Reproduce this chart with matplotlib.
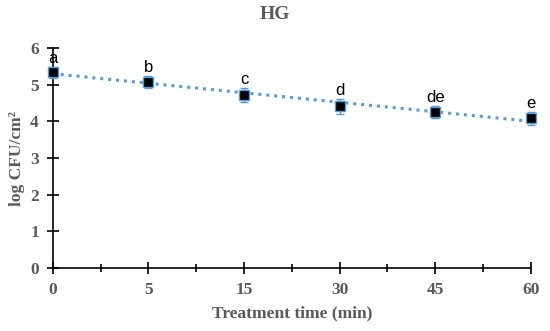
import numpy as np
import matplotlib.pyplot as plt
from matplotlib.ticker import MultipleLocator

times = ["0", "5", "15", "30", "45", "60"]
log_cfu = [5.34, 5.08, 4.73, 4.41, 4.26, 4.08]
err = [0.15, 0.17, 0.19, 0.20, 0.17, 0.18]
letters = ["a", "b", "c", "d", "de", "e"]

blue = "#5B9BD5"
gray = "#595959"
serif = "Liberation Serif"

fig = plt.figure(figsize=(5.5, 3.31), dpi=100)
ax = fig.add_axes([0.096, 0.19, 0.869, 0.665])

x = np.arange(len(times))

# linear trendline
k, b = np.polyfit(x, log_cfu, 1)
ax.plot(x, k * x + b, ls=(0, (1, 1.6)), color=blue, lw=2.2, clip_on=False, zorder=2)

ax.errorbar(x, log_cfu, yerr=err, fmt="none", ecolor=blue, elinewidth=1,
            capsize=3, capthick=1, clip_on=False, zorder=3)
ax.plot(x, log_cfu, ls="none", marker="s", ms=6.5, mfc="black", mec=blue,
        mew=1, clip_on=False, zorder=4)

for xi, yi, e, lab in zip(x, log_cfu, err, letters):
    ax.text(xi, yi + e + 0.02, lab, ha="center", va="bottom", fontsize=12,
            family="Liberation Sans", color="black")

ax.set_xlim(0, 5)
ax.set_ylim(0, 6)
ax.set_xticks(x)
ax.set_xticklabels(times)
ax.xaxis.set_minor_locator(MultipleLocator(0.5))
ax.yaxis.set_major_locator(MultipleLocator(1))

for s in ["top", "right"]:
    ax.spines[s].set_visible(False)
for s in ["left", "bottom"]:
    ax.spines[s].set_linewidth(1.2)
    ax.spines[s].set_color("black")

ax.tick_params(which="major", direction="inout", length=8, width=1.2, color="black")
ax.tick_params(which="minor", direction="inout", length=6, width=1.2, color="black")
ax.tick_params(axis="x", which="minor", bottom=True)
ax.tick_params(axis="x", pad=6)
ax.tick_params(axis="y", pad=6)

for t in ax.get_xticklabels() + ax.get_yticklabels():
    t.set_fontfamily(serif)
    t.set_fontweight("bold")
    t.set_fontsize(12.5)
    t.set_color(gray)

ax.set_xlabel("Treatment time (min)", family=serif, fontweight="bold",
              fontsize=12.5, color=gray, labelpad=5)
ax.set_ylabel("log CFU/cm\u00b2", family=serif, fontweight="bold",
              fontsize=12.5, color=gray, labelpad=4)
fig.text(0.5, 0.955, "HG", ha="center", va="center", family=serif,
         fontweight="bold", fontsize=14, color=gray)

fig.savefig("out.png", dpi=100)
